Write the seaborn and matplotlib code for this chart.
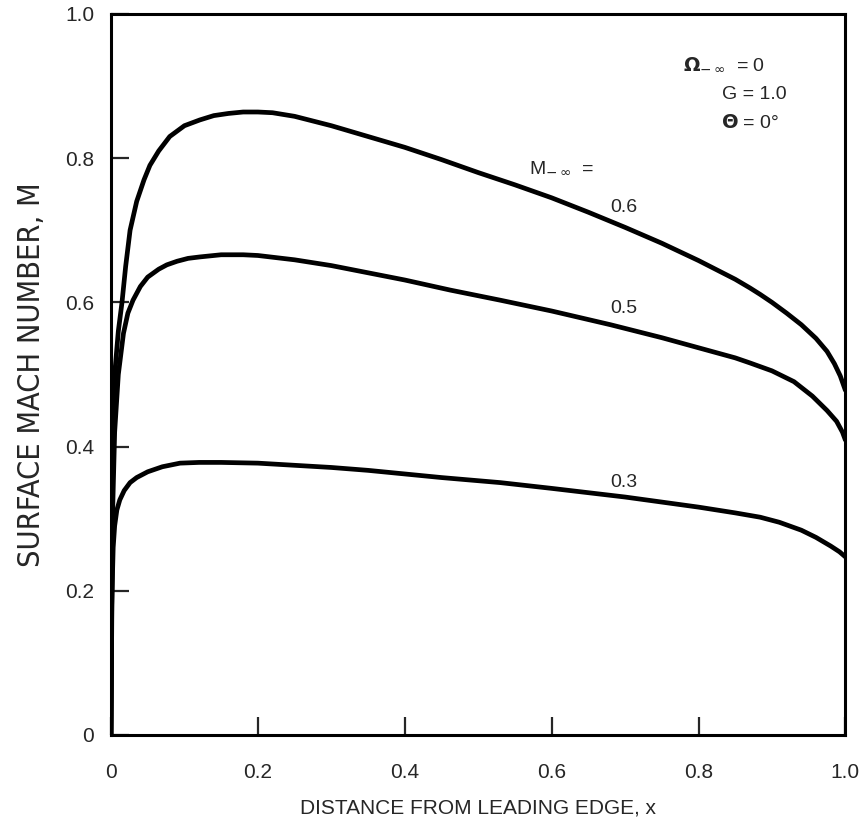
import numpy as np
import pandas as pd
import matplotlib
matplotlib.use("Agg")
import matplotlib.pyplot as plt
import seaborn as sns

# Surface Mach number along the chord for three free-stream Mach numbers
x_06 = [0.0, 0.002, 0.005, 0.01, 0.015, 0.02, 0.026, 0.035, 0.045, 0.053, 0.065, 0.08, 0.1,
        0.121, 0.14, 0.16, 0.18, 0.2, 0.22, 0.25, 0.3, 0.35, 0.4, 0.45, 0.5, 0.55, 0.6, 0.65,
        0.7, 0.75, 0.8, 0.85, 0.87, 0.884, 0.9, 0.92, 0.94, 0.96, 0.975, 0.985, 0.993, 1.0]
m_06 = [0.0, 0.38, 0.50, 0.56, 0.60, 0.65, 0.70, 0.74, 0.77, 0.79, 0.81, 0.83, 0.845,
        0.853, 0.859, 0.862, 0.864, 0.864, 0.863, 0.858, 0.845, 0.83, 0.815, 0.798, 0.78, 0.763, 0.745, 0.725,
        0.704, 0.682, 0.658, 0.632, 0.620, 0.611, 0.60, 0.585, 0.569, 0.55, 0.532, 0.515, 0.498, 0.478]

x_05 = [0.0, 0.002, 0.005, 0.01, 0.017, 0.023, 0.03, 0.04, 0.05, 0.065, 0.076, 0.09, 0.105,
        0.121, 0.15, 0.18, 0.2, 0.25, 0.3, 0.35, 0.4, 0.462, 0.53, 0.6, 0.68, 0.75, 0.8, 0.85,
        0.87, 0.9, 0.93, 0.955, 0.975, 0.988, 0.996, 1.0]
m_05 = [0.0, 0.30, 0.42, 0.50, 0.557, 0.585, 0.603, 0.622, 0.635, 0.646, 0.652, 0.657, 0.661,
        0.663, 0.666, 0.666, 0.665, 0.659, 0.651, 0.641, 0.631, 0.617, 0.603, 0.588, 0.569, 0.551, 0.537, 0.523,
        0.516, 0.505, 0.49, 0.47, 0.45, 0.435, 0.42, 0.409]

x_03 = [0.0, 0.001, 0.003, 0.005, 0.008, 0.012, 0.018, 0.026, 0.035, 0.05, 0.07, 0.094, 0.12,
        0.15, 0.2, 0.25, 0.3, 0.35, 0.4, 0.45, 0.53, 0.6, 0.7, 0.8, 0.85, 0.884, 0.91, 0.94,
        0.96, 0.98, 0.992, 1.0]
m_03 = [0.0, 0.18, 0.26, 0.29, 0.312, 0.326, 0.339, 0.35, 0.357, 0.365, 0.372, 0.377, 0.378,
        0.378, 0.377, 0.374, 0.371, 0.367, 0.362, 0.357, 0.35, 0.342, 0.33, 0.316, 0.308, 0.302, 0.295, 0.284,
        0.274, 0.262, 0.254, 0.247]

mach_labels = ["0.6", "0.5", "0.3"]
label_pos = [(0.698, 0.731), (0.698, 0.592), (0.698, 0.350)]

frames = []
for lab, xs, ms in zip(mach_labels, [x_06, x_05, x_03], [m_06, m_05, m_03]):
    frames.append(pd.DataFrame({"x": xs, "M": ms, "Minf": lab}))
df = pd.concat(frames, ignore_index=True)

sns.set_style("ticks")
plt.rcParams["font.family"] = ["Liberation Sans", "DejaVu Sans"]
plt.rcParams["mathtext.fontset"] = "dejavusans"

fig = plt.figure(figsize=(8.63, 8.30), dpi=100)
ax = fig.add_axes([0.1286, 0.1145, 0.851, 0.8687])

sns.lineplot(data=df, x="x", y="M", hue="Minf", palette=["black"] * 3,
             linewidth=3.4, legend=False, sort=False, estimator=None, ax=ax,
             solid_joinstyle="round", solid_capstyle="round")

ax.set_xlim(0, 1.0)
ax.set_ylim(0, 1.0)
ax.set_xticks([0, 0.2, 0.4, 0.6, 0.8, 1.0])
ax.set_xticklabels(["0", "0.2", "0.4", "0.6", "0.8", "1.0"])
ax.set_yticks([0, 0.2, 0.4, 0.6, 0.8, 1.0])
ax.set_yticklabels(["0", "0.2", "0.4", "0.6", "0.8", "1.0"])
ax.tick_params(axis="x", direction="in", length=13, width=1.6, pad=20, labelsize=15)
ax.tick_params(axis="y", direction="in", length=13, width=1.6, pad=12, labelsize=15)
for s in ax.spines.values():
    s.set_linewidth(2.2)
    s.set_color("black")

ax.set_xlabel("DISTANCE FROM LEADING EDGE, x", fontsize=15, labelpad=12)
ax.set_ylabel("SURFACE MACH NUMBER, M", fontsize=22, labelpad=14,
              family="DejaVu Sans", fontstretch="condensed")

# Flow condition annotations
ax.text(0.779, 0.929, r"$\mathbf{\Omega}_{-\,\infty}$  = 0", fontsize=14, ha="left", va="center")
ax.text(0.832, 0.888, "G = 1.0", fontsize=14, ha="left", va="center")
ax.text(0.831, 0.849, r"$\mathbf{\Theta}$ = 0°", fontsize=14, ha="left", va="center")

ax.text(0.569, 0.786, r"M$_{-\,\infty}$  =", fontsize=14, ha="left", va="center")
for lab, (lx, ly) in zip(mach_labels, label_pos):
    ax.text(lx, ly, lab, fontsize=14, ha="center", va="center")

fig.savefig("out.png", dpi=100)
